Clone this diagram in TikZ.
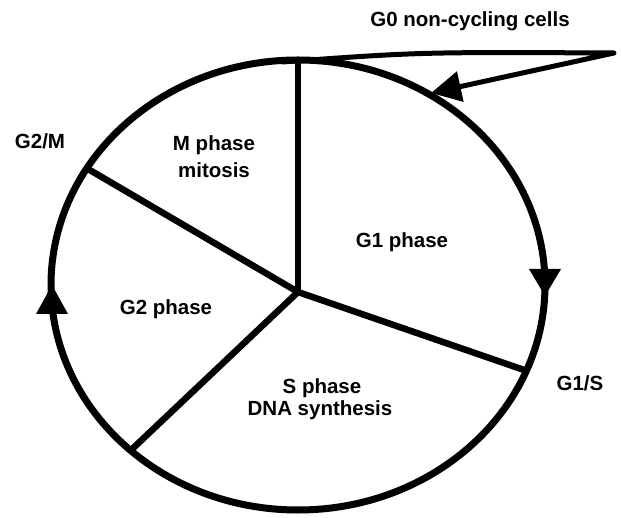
\documentclass[tikz,border=0pt]{standalone}
\usepackage{fontspec}
\setmainfont{Liberation Sans}
\usetikzlibrary{arrows.meta}
\begin{document}
\begin{tikzpicture}[x=1pt,y=-1pt,
  lbl/.style={font=\bfseries\fontsize{20.5}{24}\selectfont, align=center, inner sep=0pt, anchor=base},
  rim/.style={line width=7pt},
  spoke/.style={line width=6.5pt},
  headfill/.style={fill=black}]
\useasboundingbox (0,0) rectangle (621,518);
% cycle
\draw[rim] (298,285) ellipse [x radius=247pt, y radius=225pt];
\coordinate (c) at (298,292);
\coordinate (top) at (298,60);
\coordinate (g2m) at (88,169);
\coordinate (g2s) at (129,452);
\coordinate (g1s) at (527,371);
\draw[spoke] (c) -- (top);
\draw[spoke] (c) -- (g2m);
\draw[spoke] (c) -- (g2s);
\draw[spoke] (c) -- (g1s);
% direction arrowheads on the rim
\fill[headfill] (529,269) -- (561,269) -- (545,296) -- cycle;
\fill[headfill] (36,314) -- (68,314) -- (52,285) -- cycle;
% G0 loop
\coordinate (g0a) at (282,62);
\coordinate (g0b) at (614,53);
\coordinate (g0c) at (431,93);
\draw[line width=5pt, line join=round, -{Triangle[length=30pt,width=30pt]}]
  (g0a) .. controls (420,52) .. (g0b) -- (g0c);
% labels
\node[lbl] (g0) at (470,27) {G0 non-cycling cells};
\node[lbl] (lg2m) at (40,149) {G2/M};
\node[lbl] (m1) at (214,151) {M phase};
\node[lbl] (m2) at (214,178) {mitosis};
\node[lbl] (g1) at (402,248) {G1 phase};
\node[lbl] (g2) at (166,315) {G2 phase};
\node[lbl] (s1) at (322,393) {S phase};
\node[lbl] (s2) at (320,415) {DNA synthesis};
\node[lbl] (lg1s) at (580,390) {G1/S};
\end{tikzpicture}
\end{document}
